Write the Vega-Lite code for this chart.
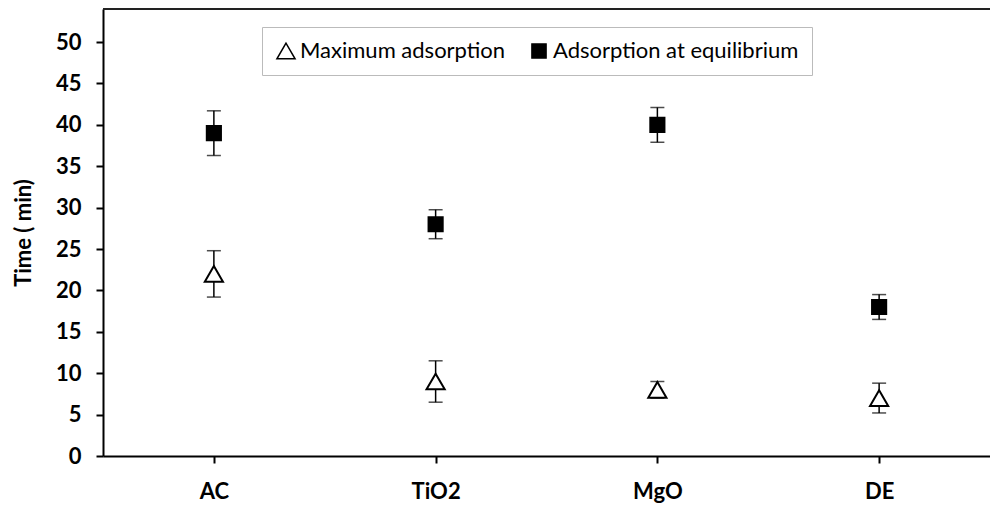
{
  "$schema": "https://vega.github.io/schema/vega-lite/v6.json",
  "width": 887,
  "height": 447,
  "autosize": {"type": "none"},
  "padding": {"left": 103, "top": 9, "right": 0, "bottom": 52},
  "background": "white",
  "config": {
    "view": {"stroke": null},
    "font": "Lato",
    "axis": {
      "domainColor": "black",
      "domainWidth": 2,
      "tickColor": "black",
      "tickWidth": 2,
      "grid": false,
      "labelColor": "black",
      "labelFont": "Lato",
      "labelFontWeight": "bold",
      "labelFontSize": 22,
      "titleFont": "Lato",
      "titleFontWeight": "bold",
      "titleFontSize": 22,
      "titleColor": "black"
    },
    "legend": {
      "title": null,
      "orient": "none",
      "legendX": 159,
      "legendY": 18,
      "direction": "horizontal",
      "columns": 2,
      "columnPadding": 22,
      "padding": 13,
      "strokeColor": "#bbbbbb",
      "fillColor": "white",
      "labelFont": "Lato",
      "labelFontSize": 22,
      "labelColor": "black",
      "labelLimit": 400,
      "labelOffset": 3
    }
  },
  "data": {
    "values": [
      {"material": "AC", "series": "Maximum adsorption", "time": 22, "err": 2.8},
      {"material": "TiO2", "series": "Maximum adsorption", "time": 9, "err": 2.5},
      {"material": "MgO", "series": "Maximum adsorption", "time": 8, "err": 1},
      {"material": "DE", "series": "Maximum adsorption", "time": 7, "err": 1.8},
      {"material": "AC", "series": "Adsorption at equilibrium", "time": 39, "err": 2.7},
      {"material": "TiO2", "series": "Adsorption at equilibrium", "time": 28, "err": 1.75},
      {"material": "MgO", "series": "Adsorption at equilibrium", "time": 40, "err": 2.1},
      {"material": "DE", "series": "Adsorption at equilibrium", "time": 18, "err": 1.5}
    ]
  },
  "encoding": {
    "x": {
      "field": "material",
      "type": "nominal",
      "sort": ["AC", "TiO2", "MgO", "DE"],
      "scale": {"type": "point", "padding": 0.5},
      "axis": {"title": null, "labelAngle": 0, "tickSize": 7, "labelPadding": 18}
    }
  },
  "layer": [
    {
      "mark": {"type": "rule", "color": "#222222", "strokeWidth": 2},
      "encoding": {"x": null, "y": {"datum": 54}}
    },
    {
      "mark": {
        "type": "errorbar",
        "color": "black",
        "rule": {"strokeWidth": 1.5},
        "ticks": {"size": 14, "thickness": 1.5, "color": "black"}
      },
      "encoding": {
        "y": {
          "field": "time",
          "type": "quantitative",
          "scale": {"domain": [0, 54], "nice": false},
          "axis": {
            "title": "Time ( min)",
            "values": [0, 5, 10, 15, 20, 25, 30, 35, 40, 45, 50],
            "tickSize": 7,
            "labelPadding": 15,
            "titlePadding": 20
          }
        },
        "yError": {"field": "err"},
        "detail": {"field": "series"}
      }
    },
    {
      "mark": {"type": "point", "stroke": "black", "strokeWidth": 2, "opacity": 1, "fillOpacity": 1},
      "encoding": {
        "y": {"field": "time", "type": "quantitative"},
        "shape": {
          "field": "series",
          "type": "nominal",
          "scale": {"domain": ["Maximum adsorption", "Adsorption at equilibrium"], "range": ["triangle-up", "square"]}
        },
        "fill": {
          "field": "series",
          "type": "nominal",
          "scale": {"domain": ["Maximum adsorption", "Adsorption at equilibrium"], "range": ["white", "black"]}
        },
        "size": {
          "field": "series",
          "type": "nominal",
          "scale": {"domain": ["Maximum adsorption", "Adsorption at equilibrium"], "range": [330, 200]},
          "legend": {
            "encode": {
              "symbols": {
                "update": {
                  "size": {"value": 110},
                  "stroke": {"value": "black"},
                  "strokeWidth": {"value": 1.1},
                  "opacity": {"value": 1}
                }
              }
            }
          }
        }
      }
    }
  ]
}
